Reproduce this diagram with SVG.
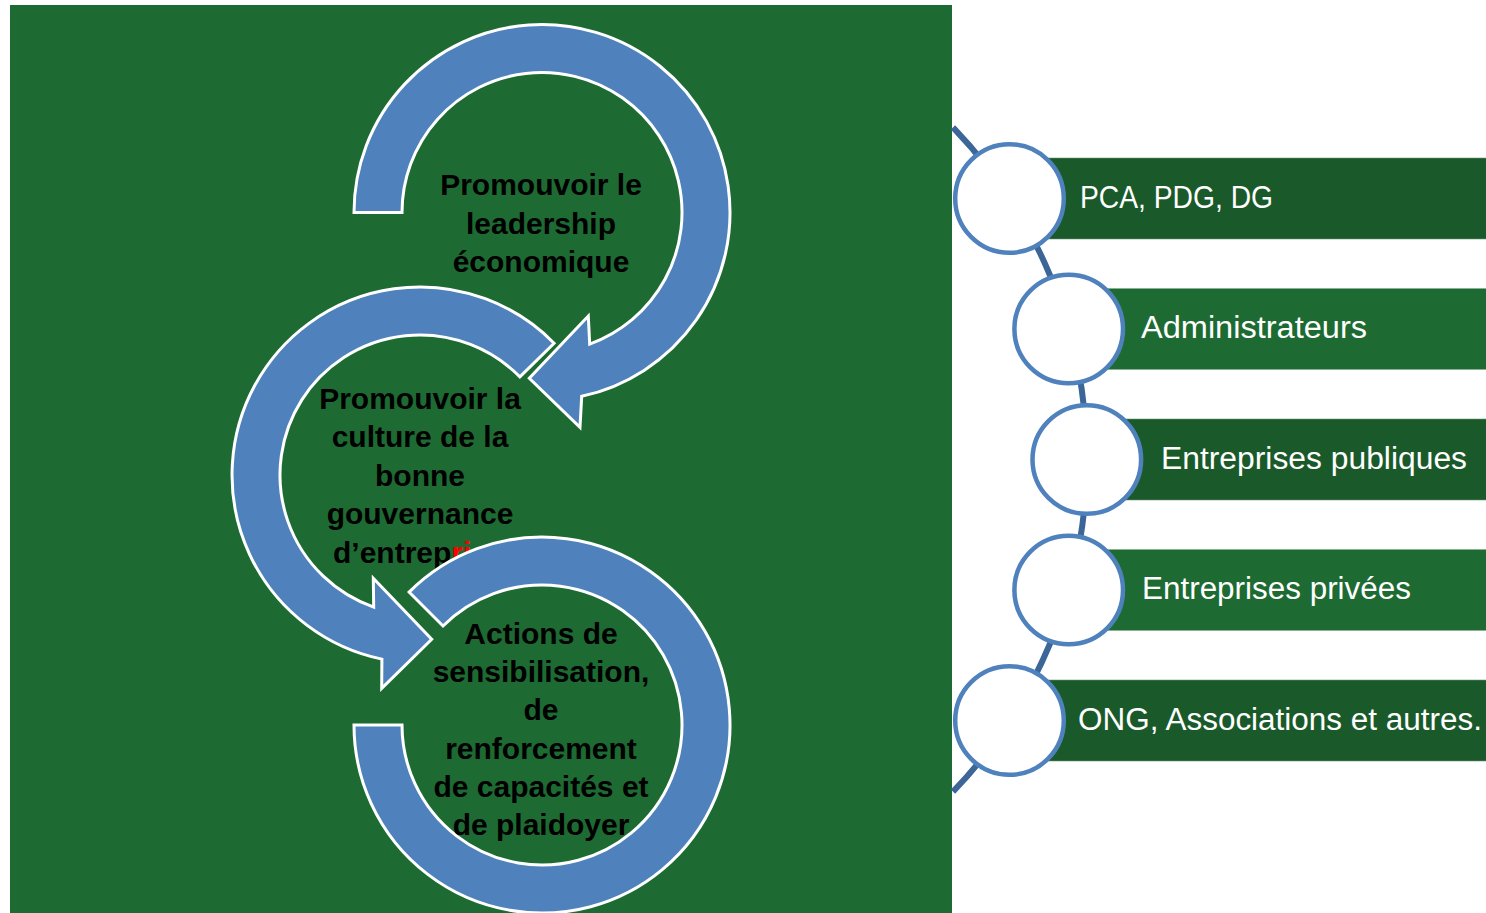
<svg xmlns="http://www.w3.org/2000/svg" width="1486" height="913" viewBox="0 0 1486 913">
<style>
.arrow{fill:#4F81BD;stroke:#FFFFFF;stroke-width:3;stroke-linejoin:miter}
.ct{font-family:"Liberation Sans",Arial,sans-serif;font-weight:bold;font-size:30px;fill:#000000;text-anchor:middle}
.bar-d{fill:#1A5A2A;stroke:#FFFFFF;stroke-opacity:0.5;stroke-width:1}
.bar-l{fill:#1D6B32;stroke:#FFFFFF;stroke-opacity:0.5;stroke-width:1}
.dot{fill:#FFFFFF;stroke:#4F81BD;stroke-width:4.5}
.bt{font-family:"Liberation Sans",Arial,sans-serif;font-size:31px;fill:#FFFFFF}
.link{fill:none;stroke:#3C6598;stroke-width:6}
</style>
<rect x="0" y="0" width="1486" height="913" fill="#FFFFFF"/>
<rect id="panel" x="10" y="5" width="942" height="908" fill="#1D6B32"/>

<g id="connectors">
<path class="link" d="M 953 127.3 A 479.3 479.3 0 0 1 953 791.7"/>
</g>

<g id="cycle-top">
<path class="arrow" d="M 354 212.5 A 188 188 0 1 1 581.7 396.3 L 580 427.3 L 529.3 378.3 L 588.3 316 L 589.7 344.1 A 140 140 0 1 0 402 212.5 Z"/>
<text class="ct" x="541" y="195">Promouvoir le</text>
<text class="ct" x="541" y="233.5">leadership</text>
<text class="ct" x="541" y="272">économique</text>
</g>

<g id="cycle-middle">
<path class="arrow" d="M 554.1 343.2 A 188 188 0 1 0 381.9 659.1 L 381.7 688.3 L 431.7 639.3 L 373.3 578.3 L 373.7 607.1 A 140 140 0 1 1 519.9 376.9 Z"/>
<text class="ct" x="420" y="408.5">Promouvoir la</text>
<text class="ct" x="420" y="447">culture de la</text>
<text class="ct" x="420" y="485.5">bonne</text>
<text class="ct" x="420" y="524">gouvernance</text>
<text class="ct" x="333" y="562.5" style="text-anchor:start">d’entrep<tspan fill="#FF0000">ri</tspan></text>
</g>

<g id="cycle-bottom">
<path class="arrow" d="M 409.1 592.1 A 188 188 0 1 1 354 725 L 402 725 A 140 140 0 1 0 443 626 Z"/>
<text class="ct" x="541" y="643.5">Actions de</text>
<text class="ct" x="541" y="681.5">sensibilisation,</text>
<text class="ct" x="541" y="720">de</text>
<text class="ct" x="541" y="758.5">renforcement</text>
<text class="ct" x="541" y="797">de capacités et</text>
<text class="ct" x="541" y="835">de plaidoyer</text>
</g>

<g id="item-1">
<rect class="bar-d" x="1009.5" y="157.7" width="477" height="81.6"/>
<circle class="dot" cx="1009.5" cy="198.5" r="54.3"/>
<text class="bt" x="1080" y="207.7" textLength="193" lengthAdjust="spacingAndGlyphs">PCA, PDG, DG</text>
</g>
<g id="item-2">
<rect class="bar-l" x="1068.7" y="288.2" width="418" height="81.6"/>
<circle class="dot" cx="1068.7" cy="329" r="54.3"/>
<text class="bt" x="1141" y="338.2" textLength="226" lengthAdjust="spacingAndGlyphs">Administrateurs</text>
</g>
<g id="item-3">
<rect class="bar-d" x="1086.8" y="418.7" width="400" height="81.6"/>
<circle class="dot" cx="1086.8" cy="459.5" r="54.3"/>
<text class="bt" x="1161" y="468.7" textLength="306" lengthAdjust="spacingAndGlyphs">Entreprises publiques</text>
</g>
<g id="item-4">
<rect class="bar-l" x="1068.7" y="549.2" width="418" height="81.6"/>
<circle class="dot" cx="1068.7" cy="590" r="54.3"/>
<text class="bt" x="1142" y="599.2" textLength="269" lengthAdjust="spacingAndGlyphs">Entreprises privées</text>
</g>
<g id="item-5">
<rect class="bar-d" x="1009.5" y="679.7" width="477" height="81.6"/>
<circle class="dot" cx="1009.5" cy="720.5" r="54.3"/>
<text class="bt" x="1078" y="729.7" textLength="404" lengthAdjust="spacingAndGlyphs">ONG, Associations et autres.</text>
</g>
</svg>
